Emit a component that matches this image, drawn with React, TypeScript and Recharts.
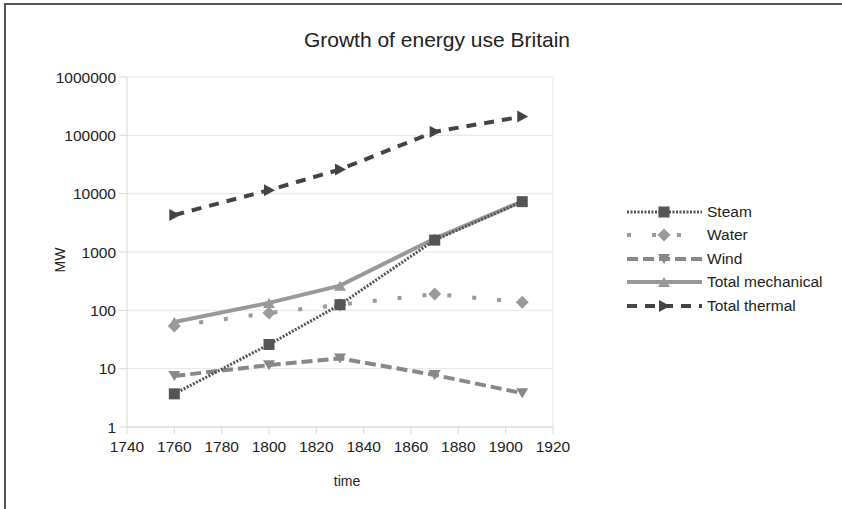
import React from 'react';
import { LineChart, Line, XAxis, YAxis, CartesianGrid, Legend, ReferenceLine, Customized } from 'recharts';

const years = [1760, 1800, 1830, 1870, 1907];
const steam = [3.7, 26, 125, 1600, 7300];
const water = [54, 90, 125, 190, 138];
const wind = [7.5, 11.5, 15, 7.8, 3.8];
const totalMechanical = [63, 134, 265, 1700, 7400];
const totalThermal = [4300, 11500, 26000, 115000, 210000];

const xTicks = [1740, 1760, 1780, 1800, 1820, 1840, 1860, 1880, 1900, 1920];
const yTicks = [1, 10, 100, 1000, 10000, 100000, 1000000];

const data = years.map((year, i) => ({
  year,
  steam: steam[i],
  water: water[i],
  wind: wind[i],
  totalMechanical: totalMechanical[i],
  totalThermal: totalThermal[i],
}));

const FONT = '"Liberation Sans", Arial, sans-serif';

type MarkerKind = 'square' | 'diamond' | 'down' | 'up' | 'right';

const Marker = ({ kind, cx, cy, fill }: { kind: MarkerKind; cx: number; cy: number; fill: string }) => {
  if (kind === 'square') return <rect x={cx - 5.5} y={cy - 5.5} width={11} height={11} fill={fill} />;
  if (kind === 'diamond')
    return <polygon points={`${cx},${cy - 6.5} ${cx + 6.5},${cy} ${cx},${cy + 6.5} ${cx - 6.5},${cy}`} fill={fill} />;
  if (kind === 'down')
    return <polygon points={`${cx - 6},${cy - 5} ${cx + 6},${cy - 5} ${cx},${cy + 5}`} fill={fill} />;
  if (kind === 'up')
    return <polygon points={`${cx - 6},${cy + 5} ${cx + 6},${cy + 5} ${cx},${cy - 5}`} fill={fill} />;
  return <polygon points={`${cx - 5},${cy - 6} ${cx - 5},${cy + 6} ${cx + 6},${cy}`} fill={fill} />;
};

const series = [
  { key: 'steam', name: 'Steam', color: '#555555', dash: '2 1.5', width: 3, marker: 'square' as MarkerKind },
  { key: 'water', name: 'Water', color: '#9a9a9a', dash: '4 21', width: 4, marker: 'diamond' as MarkerKind },
  { key: 'wind', name: 'Wind', color: '#888888', dash: '11 5', width: 4, marker: 'down' as MarkerKind },
  { key: 'totalMechanical', name: 'Total mechanical', color: '#999999', dash: undefined, width: 4, marker: 'up' as MarkerKind },
  { key: 'totalThermal', name: 'Total thermal', color: '#444444', dash: '10 8', width: 4, marker: 'right' as MarkerKind },
];

// drawn last-to-first so Steam sits on top, as in the original
const drawOrder = [...series].reverse();

const LegendContent = () => (
  <div style={{ fontFamily: FONT, fontSize: 15.5, color: '#222' }}>
    {series.map((s) => (
      <div key={s.key} style={{ display: 'flex', alignItems: 'center', height: 23.5 }}>
        <svg width={80} height={16} style={{ display: 'block' }}>
          <line x1={2} y1={8} x2={77} y2={8} stroke={s.color} strokeWidth={s.width} strokeDasharray={s.dash} />
          <Marker kind={s.marker} cx={39} cy={8} fill={s.color} />
        </svg>
        <span style={{ marginLeft: 2 }}>{s.name}</span>
      </div>
    ))}
  </div>
);

const Texts = () => (
  <g fontFamily={FONT}>
    <text x={437} y={47} textAnchor="middle" fontSize={21} fill="#222">
      Growth of energy use Britain
    </text>
    <text x={347} y={486} textAnchor="middle" fontSize={14} fill="#222">
      time
    </text>
    <text x={65} y={260} textAnchor="middle" fontSize={14} fill="#222" transform="rotate(-90 65 260)">
      MW
    </text>
  </g>
);

export default function App() {
  return (
    <div style={{ position: 'absolute', left: 0, top: 0, width: 842, height: 509, background: '#fff' }}>
      <div
        style={{
          position: 'absolute',
          left: 4,
          top: 3,
          right: 0,
          bottom: 0,
          borderTop: '2px solid #555',
          borderLeft: '2px solid #555',
        }}
      />
      <LineChart
        width={842}
        height={509}
        data={data}
        margin={{ top: 77, right: 89, bottom: 42, left: 67 }}
        style={{ fontFamily: FONT }}
      >
        <CartesianGrid horizontal vertical={false} stroke="#e6e6e6" />
        <XAxis
          dataKey="year"
          type="number"
          domain={[1740, 1920]}
          ticks={xTicks}
          height={40}
          stroke="#d9d9d9"
          tickSize={7}
          tickMargin={7}
          tick={{ fill: '#222', fontSize: 15.5 }}
          interval={0}
        />
        <YAxis
          scale="log"
          domain={[1, 1000000]}
          ticks={yTicks}
          width={60}
          stroke="#d9d9d9"
          tickSize={8}
          tickMargin={3}
          tick={{ fill: '#222', fontSize: 15.5 }}
          interval={0}
          allowDataOverflow
        />
        <ReferenceLine x={1920} stroke="#e6e6e6" />
        {drawOrder.map((s) => (
          <Line
            key={s.key}
            dataKey={s.key}
            name={s.name}
            type="linear"
            stroke={s.color}
            strokeWidth={s.width}
            strokeDasharray={s.dash}
            isAnimationActive={false}
            dot={(p: any) => (
              <Marker key={`${s.key}-${p.index}`} kind={s.marker} cx={p.cx} cy={p.cy} fill={s.color} />
            )}
            activeDot={false}
          />
        ))}
        <Legend
          layout="vertical"
          align="right"
          verticalAlign="middle"
          content={<LegendContent />}
          wrapperStyle={{ width: 200, left: 625, top: 200, right: 'auto' }}
        />
        <Customized component={Texts} />
      </LineChart>
    </div>
  );
}
